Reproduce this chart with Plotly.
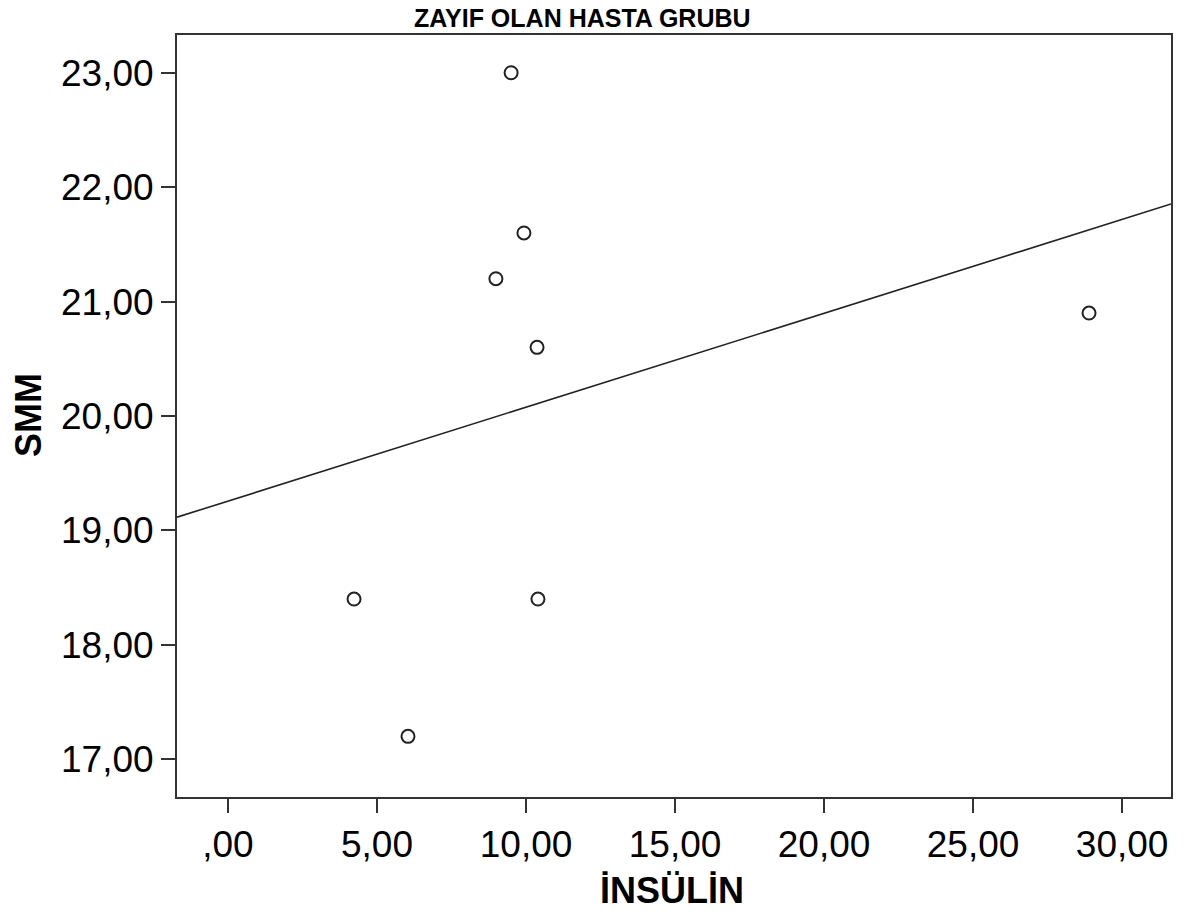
import numpy as np
import plotly.graph_objects as go

insulin = [9.50, 9.93, 8.99, 10.37, 28.89, 4.23, 10.40, 6.04]
smm = [23.0, 21.6, 21.2, 20.6, 20.9, 18.4, 18.4, 17.2]
x_ticks = [0, 5, 10, 15, 20, 25, 30]
x_tick_labels = [",00", "5,00", "10,00", "15,00", "20,00", "25,00", "30,00"]
y_ticks = [17, 18, 19, 20, 21, 22, 23]
y_tick_labels = ["17,00", "18,00", "19,00", "20,00", "21,00", "22,00", "23,00"]
x_range = [-1.71, 31.64]
y_range = [16.67, 23.33]

slope, intercept = np.polyfit(insulin, smm, 1)
line_x = np.array(x_range)
line_y = intercept + slope * line_x

fig = go.Figure()
fig.add_trace(go.Scatter(x=line_x, y=line_y, mode="lines",
                         line=dict(color="#222222", width=1.6), hoverinfo="skip"))
fig.add_trace(go.Scatter(x=insulin, y=smm, mode="markers",
                         marker=dict(size=13, color="rgba(255,255,255,0)",
                                     line=dict(color="#222222", width=2))))

font = "Liberation Sans, Arial, sans-serif"
axis_common = dict(showline=True, linecolor="#333333", linewidth=2, mirror=True,
                   ticks="outside", ticklen=14, tickwidth=2, tickcolor="#333333",
                   showgrid=False, zeroline=False,
                   tickfont=dict(family=font, size=37, color="black"))
fig.update_xaxes(range=x_range, tickvals=x_ticks, ticktext=x_tick_labels, **axis_common)
fig.update_yaxes(range=y_range, tickvals=y_ticks, ticktext=y_tick_labels, **axis_common)

# plot area targets x 177-1171, y 35-797 in the window (body margin removed below)
L, T, PW, PH = 177, 35, 994, 762
W, H = 1194, 920
fig.update_layout(
    width=W, height=H,
    margin=dict(l=L, r=W - L - PW, t=T, b=H - T - PH),
    paper_bgcolor="white", plot_bgcolor="white",
    showlegend=False,
    annotations=[
        dict(text="<b>ZAYIF OLAN HASTA GRUBU</b>", xref="paper", yref="paper",
             x=(582 - L) / PW, y=1 + (T - 18) / PH, showarrow=False,
             xanchor="center", yanchor="middle",
             font=dict(family=font, size=25, color="black")),
        dict(text="<b>İNSÜLİN</b>", xref="paper", yref="paper",
             x=(672 - L) / PW, y=-(890 - (T + PH)) / PH, showarrow=False,
             xanchor="center", yanchor="middle",
             font=dict(family=font, size=36, color="black")),
        dict(text="<b>SMM</b>", xref="paper", yref="paper",
             x=-(L - 28) / PW, y=(T + PH - 415) / PH, showarrow=False,
             textangle=-90, xanchor="center", yanchor="middle",
             font=dict(family=font, size=36, color="black")),
    ],
)

fig.write_html("out.html", config={"displayModeBar": False},
               post_script="document.body.style.margin='0';document.body.style.overflow='hidden';")
